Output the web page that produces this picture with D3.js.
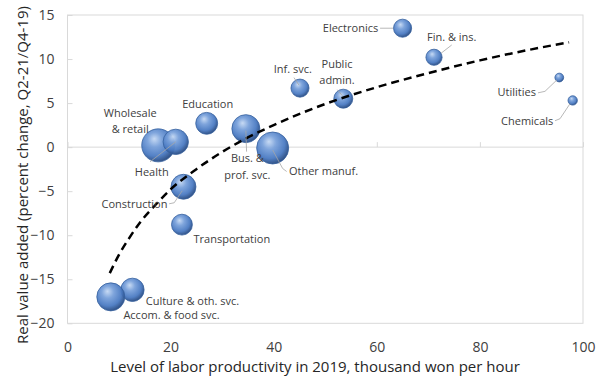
<!DOCTYPE html>
<html><head><meta charset="utf-8">
<script src="https://cdn.jsdelivr.net/npm/d3@7"></script>
<style>
html,body{margin:0;padding:0;background:#fff;}
svg{display:block;}
text{font-family:"Open Sans","Noto Sans",sans-serif;}
</style></head>
<body>
<svg id="chart" width="605" height="380"></svg>
<script>
// ---- data ----
const sectors = ["Wholesale & retail","Health","Education","Bus. & prof. svc.","Other manuf.","Inf. svc.","Public admin.","Electronics","Fin. & ins.","Utilities","Chemicals","Construction","Transportation","Culture & oth. svc.","Accom. & food svc."];
const productivity = [17.6, 21.0, 27.0, 34.6, 39.8, 45.1, 53.5, 65.0, 71.1, 95.4, 98.0, 22.5, 22.2, 12.6, 8.4];
const valueAddedChange = [0.2, 0.6, 2.7, 2.1, -0.1, 6.7, 5.5, 13.5, 10.2, 7.9, 5.3, -4.5, -8.8, -16.2, -17.0];
const bubbleSize = [10.0, 5.9, 4.4, 7.2, 9.4, 3.0, 3.3, 3.0, 2.4, 0.7, 0.8, 5.7, 4.0, 5.0, 7.2];
const trendX = [8.2, 10, 12, 14, 17, 20, 25, 30, 35, 40, 50, 60, 70, 80, 90, 97.3];
const trendY = [-14.3, -12.2, -10.3, -8.6, -6.6, -4.8, -2.5, -0.55, 1.1, 2.5, 4.9, 6.8, 8.4, 9.85, 11.1, 11.9];
const xTicks = [0, 20, 40, 60, 80, 100];
const yTicks = [-20, -15, -10, -5, 0, 5, 10, 15];
const xTitle = "Level of labor productivity in 2019, thousand won per hour";
const yTitle = "Real value added (percent change, Q2-21/Q4-19)";

// ---- label layout (pixel offsets from bubble centre) ----
const labelLayout = {
  "Wholesale & retail": {lines:["Wholesale","& retail"], dx:-28, dy:[-32.7,-16.7], anchor:"middle"},
  "Health": {lines:["Health"], dx:-24, dy:[30], anchor:"middle", leader:[[-25.7,20],[0,0]]},
  "Education": {lines:["Education"], dx:1, dy:[-19.3], anchor:"middle"},
  "Bus. & prof. svc.": {lines:["Bus. &","prof. svc."], dx:1.5, dy:[30,46.7], anchor:"middle", leader:[[0.7,23],[0,2]]},
  "Other manuf.": {lines:["Other manuf."], dx:16.3, dy:[23.4], anchor:"start", leader:[[14,23.5],[10,20.5],[0,2]]},
  "Inf. svc.": {lines:["Inf. svc."], dx:-7.2, dy:[-19.4], anchor:"middle", leader:[[-6,-10.5],[-1,-3]]},
  "Public admin.": {lines:["Public","admin."], dx:-6.3, dy:[-35,-18.3], anchor:"middle", leader:[[-6,-9],[-1,-3]]},
  "Electronics": {lines:["Electronics"], dx:-24.4, dy:[0], anchor:"end", leader:[[-22.5,0],[-9.5,0]]},
  "Fin. & ins.": {lines:["Fin. & ins."], dx:17.7, dy:[-20.6], anchor:"middle", leader:[[17.7,-12.3],[7,-4]]},
  "Utilities": {lines:["Utilities"], dx:-23.3, dy:[15], anchor:"end", leader:[[-21.3,15.3],[-14.3,13.8],[-2.3,2.3]]},
  "Chemicals": {lines:["Chemicals"], dx:-19.4, dy:[21], anchor:"end", leader:[[-17.7,20.3],[-12.7,18.3],[-2.7,3.3]]},
  "Construction": {lines:["Construction"], dx:-16, dy:[17.3], anchor:"end", leader:[[-14.3,17],[-9.3,16],[-1.3,4]]},
  "Transportation": {lines:["Transportation"], dx:11.6, dy:[14.3], anchor:"start"},
  "Culture & oth. svc.": {lines:["Culture & oth. svc."], dx:13.3, dy:[11.2], anchor:"start"},
  "Accom. & food svc.": {lines:["Accom. & food svc."], dx:12.6, dy:[17.8], anchor:"start"}
};

const svg = d3.select("#chart");
const L = 67.5, R = 583, T = 15, B = 323.3;
const x = d3.scaleLinear().domain([0,100]).range([L,R]);
const y = d3.scaleLinear().domain([-20,15]).range([B,T]);
const r = d3.scaleSqrt().domain([0,10]).range([0,16.5]);

// gradient
const defs = svg.append("defs");
const g = defs.append("radialGradient").attr("id","bub").attr("cx","42%").attr("cy","38%").attr("r","62%").attr("fx","38%").attr("fy","30%");
g.append("stop").attr("offset","0%").attr("stop-color","#c4d8f3");
g.append("stop").attr("offset","35%").attr("stop-color","#78a0da");
g.append("stop").attr("offset","75%").attr("stop-color","#4a7ac2");
g.append("stop").attr("offset","100%").attr("stop-color","#284b82");

// plot border
svg.append("rect").attr("x",L).attr("y",T).attr("width",R-L).attr("height",B-T)
  .attr("fill","none").attr("stroke","#d9d9d9").attr("stroke-width",1);

// y axis ticks (inside, on left edge)
const yAxis = d3.axisLeft(y).tickValues(yTicks).tickSize(-5).tickPadding(14).tickFormat(d3.format("d"));
const ya = svg.append("g").attr("transform",`translate(${L},0)`).call(yAxis);
ya.select(".domain").remove();
ya.selectAll(".tick line").attr("stroke","#d9d9d9");
ya.selectAll(".tick text").attr("fill","#404040").style("font-size","14px").attr("x",-13);

// x axis: line at zero, ticks pointing up, labels at bottom
const xAxis = d3.axisBottom(x).tickValues(xTicks).tickSize(-5).tickFormat(d3.format("d"));
const xa = svg.append("g").attr("transform",`translate(0,${y(0)})`).call(xAxis);
xa.select(".domain").attr("stroke","#d9d9d9").attr("d",`M${L},0H${R}`);
xa.selectAll(".tick line").attr("stroke","#d9d9d9");
xa.selectAll(".tick text").attr("fill","#404040").style("font-size","14px")
  .attr("y", 346.7 - y(0)).attr("dy","0.35em");

// bubbles
const data = sectors.map((s,i)=>({name:s, x:productivity[i], y:valueAddedChange[i], s:bubbleSize[i]}));
svg.append("g").selectAll("circle").data(data).join("circle")
  .attr("cx",d=>x(d.x)).attr("cy",d=>y(d.y)).attr("r",d=>r(d.s))
  .attr("fill","url(#bub)").attr("fill-opacity",0.95)
  .attr("stroke","#36619e").attr("stroke-width",0.8);

// trend line
const trend = trendX.map((v,i)=>[v,trendY[i]]);
svg.append("path").datum(trend)
  .attr("d", d3.line().x(d=>x(d[0])).y(d=>y(d[1])).curve(d3.curveMonotoneX))
  .attr("fill","none").attr("stroke","#000").attr("stroke-width",2.5).attr("stroke-dasharray","8,5");

// leaders and labels
const lab = svg.append("g");
data.forEach(d=>{
  const lay = labelLayout[d.name];
  const cx = x(d.x), cy = y(d.y);
  if (lay.leader) {
    lab.append("path").attr("d", d3.line()(lay.leader.map(p=>[cx+p[0],cy+p[1]])))
      .attr("fill","none").attr("stroke","#a6a6a6").attr("stroke-width",0.8);
  }
  lay.lines.forEach((t,k)=>{
    lab.append("text").attr("x",cx+lay.dx).attr("y",cy+lay.dy[k]).attr("dy","0.35em")
      .attr("text-anchor",lay.anchor).attr("fill","#404040").style("font-size","11px").text(t);
  });
});

// axis titles
svg.append("text").attr("x",315).attr("y",366.7).attr("dy","0.35em").attr("text-anchor","middle")
  .attr("fill","#262626").style("font-size","15px").text(xTitle);
svg.append("text").attr("transform","translate(22.5,175) rotate(-90)").attr("dy","0.35em").attr("text-anchor","middle")
  .attr("fill","#262626").style("font-size","15px").text(yTitle);
</script>
</body></html>
